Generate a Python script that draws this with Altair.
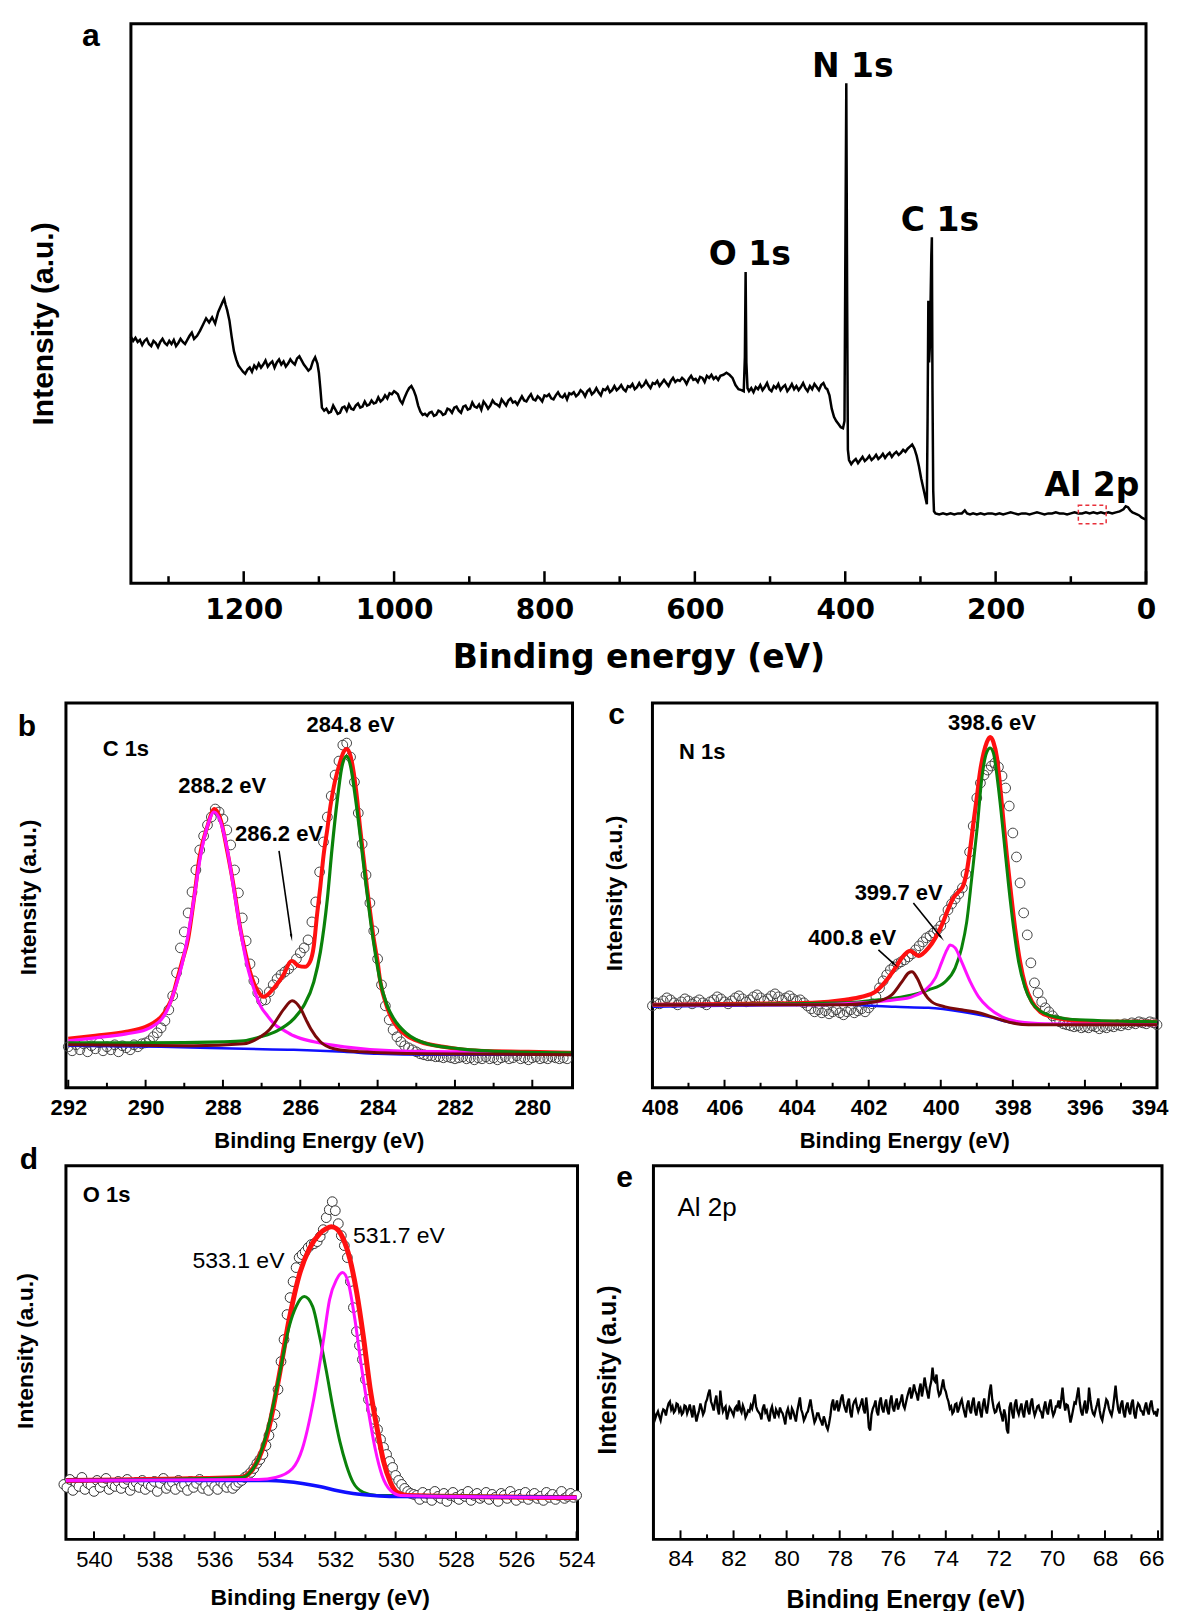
import altair as alt
import pandas as pd

FONT = "Liberation Sans"
WIDE = "DejaVu Sans"

# ---------------- panel a : survey spectrum (E in eV, intensity a.u.) ----------------
a_pts = [(1350,240),(1347,236),(1344,239),(1341,235),(1338,237),(1335,232),(1332,236),(1329,238),(1326,233),(1323,231),
(1320,236),(1317,234),(1314,230),(1311,235),(1308,238),(1305,234),(1302,232),(1299,236),(1296,233),(1293,237),(1290,231),
(1287,234),(1284,238),(1281,235),(1278,233),(1275,237),(1272,241),(1269,244),(1266,238),(1262,241),(1258,246),(1254,252),
(1250,258),(1246,254),(1242,259),(1238,253),(1234,264),(1231,269),(1228,274),(1226,277),(1224,271),(1222,266),(1219,256),
(1216,240),(1213,226),(1210,218),(1207,212),(1204,209),(1201,206),(1198,204),(1195,208),(1192,210),(1189,206),(1186,212),
(1183,209),(1180,214),(1177,210),(1174,213),(1171,217),(1168,211),(1165,214),(1162,216),(1159,210),(1156,215),(1153,218),
(1150,213),(1147,216),(1144,211),(1141,214),(1138,218),(1135,215),(1132,213),(1129,219),(1126,221),(1123,217),(1120,213),
(1117,210),(1114,207),(1111,209),(1108,216),(1105,220),(1102,214),(1100,205),(1098,189),(1096,171),(1093,168),(1090,170),
(1087,166),(1084,167),(1081,173),(1078,169),(1075,165),(1072,166),(1069,171),(1066,172),(1063,168),(1060,174),(1057,170),
(1054,169),(1051,173),(1048,175),(1045,171),(1042,172),(1039,177),(1036,173),(1033,174),(1030,178),(1027,175),(1024,176),
(1021,181),(1018,177),(1015,179),(1012,183),(1009,180),(1006,185),(1003,184),(1000,187),(998,186),(995,184),(992,178),
(989,175),(986,181),(983,186),(980,190),(977,192),(974,188),(971,182),(968,173),(965,167),(962,164),(959,165),(956,163),
(953,166),(950,167),(947,163),(944,164),(941,168),(938,167),(935,164),(932,165),(929,170),(926,169),(923,166),(920,171),
(917,172),(914,168),(911,166),(908,172),(905,173),(902,169),(899,170),(896,176),(893,172),(890,171),(887,174),(884,169),
(881,177),(878,174),(875,170),(872,173),(869,178),(866,175),(863,174),(860,172),(857,179),(854,176),(851,173),(848,178),
(845,180),(842,176),(839,177),(836,174),(833,178),(830,182),(827,178),(824,177),(821,181),(818,184),(815,179),(812,178),
(809,182),(806,180),(803,177),(800,183),(797,182),(794,184),(791,180),(788,179),(785,183),(782,186),(779,182),(776,181),
(773,184),(770,179),(767,185),(764,184),(761,186),(758,182),(755,184),(752,188),(749,186),(746,182),(743,187),(740,189),
(737,184),(734,186),(731,190),(728,186),(725,183),(722,189),(719,188),(716,191),(713,186),(710,188),(707,192),(704,188),
(701,190),(698,193),(695,189),(692,187),(689,192),(686,191),(683,194),(680,189),(677,191),(674,195),(671,191),(668,193),
(665,197),(662,193),(659,190),(656,195),(653,194),(650,197),(647,192),(644,195),(641,198),(638,195),(635,192),(632,197),
(629,200),(626,196),(623,198),(620,197),(617,200),(614,198),(611,194),(608,199),(605,202),(602,198),(599,199),(596,196),
(593,201),(590,200),(587,196),(584,202),(581,200),(578,203),(575,199),(572,201),(569,198),(566,202),(562,203),(558,205),
(554,203),(550,200),(546,193),(542,189),(538,188),(535,187),(533.5,220),(532.5,303),(531.5,215),(530,190),(528,187),
(525,190),(522,186),(519,191),(516,189),(513,193),(510,188),(507,191),(504,195),(501,189),(498,187),(495,192),(492,190),
(489,194),(486,188),(483,191),(480,193),(477,187),(474,190),(471,194),(468,189),(465,192),(462,188),(459,191),(456,195),
(453,190),(450,187),(447,192),(444,189),(441,194),(438,191),(435,188),(432,193),(429,195),(426,190),(424,189),(421,183),
(418,170),(415,162),(412,158),(409,155),(406,152),(403,151),(401,158),(400,300),(398.6,487),(397.5,280),(396.5,130),
(395,120),(392,116),(389,119),(386,121),(383,117),(380,120),(377,123),(374,119),(371,121),(368,124),(365,120),(362,122),
(359,125),(356,121),(353,123),(350,126),(347,122),(344,125),(341,127),(338,123),(335,126),(332,128),(329,125),(326,127),
(323,130),(320,128),(317,131),(314,133),(311,135),(308,131),(305,124),(302,114),(299,102),(296,92),(293,82),(291.5,77),
(290.5,160),(289.5,275),(288.5,215),(287.5,230),(286.5,275),(285.5,320),(284.8,337),(284,190),(283,90),(282,70),(280,68),
(275,67),(270,68),(265,67),(260,68),(255,67),(250,68),(245,68),(241,71),(238,68),(234,67),(230,68),(225,67),(220,68),
(215,67),(210,68),(205,68),(200,67),(195,68),(190,67),(185,68),(180,69),(175,68),(170,67),(165,68),(160,68),(155,67),
(150,68),(145,69),(140,68),(135,67),(130,68),(125,68),(120,69),(115,68),(110,68),(105,67),(100,68),(95,69),(90,68),
(85,68),(80,69),(75,68),(70,69),(65,68),(60,69),(55,68),(50,69),(45,68),(40,69),(35,70),(30,72),(27,75),(24,74),(21,71),
(18,69),(15,68),(12,67),(9,66),(6,64),(3,63),(0,62)]
a_lab_txt = ["N 1s", "O 1s", "C 1s", "Al 2p"]
a_lab_E = [390, 527, 274, 72]
a_lab_I = [503, 320, 353, 95]
a_major = [0, 200, 400, 600, 800, 1000, 1200]
a_minor = [100, 300, 500, 700, 900, 1100, 1300]

# ---------------- panel b : C 1s ----------------
b_circ_I = [41, 37, 43, 38, 44, 36, 42, 39, 45, 37, 41, 38, 43, 36, 42, 40, 38, 43, 41, 44, 45,
 47, 51, 55, 60, 67, 78, 92, 115, 140, 156, 175, 196, 218, 238, 252, 263, 271, 279, 276, 269,
 258, 243, 218, 195, 170, 147, 124, 107, 95, 87, 88, 96, 103, 109, 113, 116, 119, 123, 129, 135,
 140, 148, 166, 186, 216, 246, 271, 292, 313, 327, 343, 345, 331, 306, 275, 244, 213, 185, 157, 129,
 103, 82, 68, 58, 51, 46, 42, 40, 38, 36, 34, 33, 32, 32, 31, 31, 30, 31, 30, 29,
 30, 31, 29, 30, 28, 30, 29, 31, 29, 30, 28, 30, 31, 29, 30, 32, 29, 30, 28, 30, 31, 29, 30, 29, 31, 30, 29, 30, 29]
b_circ_E = [round(292.0 - 0.1 * i, 1) for i in range(len(b_circ_I))]
b_red = [(292.0,49),(291.3,52),(290.5,56),(290.0,61),(289.8,65),(289.6,71),(289.45,79),(289.3,92),(289.2,106),(289.05,127),
 (288.9,149),(288.75,189),(288.6,232),(288.4,262),(288.22,279),(288.05,267),(287.9,239),(287.72,201),(287.55,159),(287.4,132),
 (287.3,116),(287.1,97),(286.95,91),(286.7,99),(286.45,112),(286.22,127),(286.05,122),(285.88,121),(285.75,126),(285.65,142),
 (285.57,172),(285.48,202),(285.4,232),(285.3,259),(285.22,282),(285.13,302),(285.0,322),(284.88,336),(284.8,339),(284.7,332),
 (284.62,316),(284.53,289),(284.45,259),(284.36,229),(284.27,199),(284.18,172),(284.1,149),(284.0,126),(283.93,106),(283.8,86),
 (283.67,72),(283.5,61),(283.24,52),(282.9,46),(282.3,41),(281.4,37),(280.1,36),(279.0,35)]
b_mag = [(292.0,47),(291.3,50),(290.5,54),(290.0,58),(289.8,62),(289.6,68),(289.45,77),(289.2,104),(289.05,125),(288.92,149),
 (288.75,189),(288.58,232),(288.4,262),(288.23,276),(288.06,266),(287.89,239),(287.72,199),(287.54,156),(287.37,122),(287.2,99),
 (287.03,82),(286.85,72),(286.68,64),(286.4,57),(286.17,52),(285.65,46),(284.87,41),(283.58,37),(281.86,36),(279.0,34)]
b_grn = [(292.0,45),(290.0,45),(288.0,46),(287.46,47),(287.03,51),(286.6,57),(286.17,69),(285.91,82),(285.65,106),(285.48,136),
 (285.3,189),(285.18,239),(285.04,289),(284.92,322),(284.8,332),(284.7,322),(284.57,289),(284.44,249),(284.31,206),(284.18,166),
 (284.05,132),(283.93,106),(283.75,82),(283.58,69),(283.24,54),(282.72,44),(281.86,39),(280.57,36),(279.0,35)]
b_brn = [(292.0,43),(288.75,42),(287.46,44),(287.03,51),(286.8,58),(286.68,64),(286.42,79),(286.21,87),(285.99,79),(285.85,68),
 (285.73,59),(285.48,46),(285.13,39),(284.44,36),(282.72,34),(279.0,33)]
b_blu = [(292.0,42),(289.6,41),(287.46,39),(286.17,38),(284.87,36),(284.0,34),(282.7,33),(279.0,33)]
b_lab_txt = ["C 1s", "288.2 eV", "284.8 eV", "286.2 eV"]
b_lab_E = [290.51, 288.02, 284.70, 286.55]
b_lab_I = [339, 302, 363, 254]

# ---------------- panel c : N 1s ----------------
c_circ_I = [82, 85, 84, 87, 90, 88, 85, 83, 86, 89, 87, 84, 86, 88, 85, 83,
 86, 88, 91, 89, 86, 84, 87, 90, 92, 89, 86, 88, 91, 93, 90, 87, 89, 92, 94, 91, 88, 90, 92, 89, 87,
 88, 85, 82, 79, 76, 78, 75, 77, 74, 76, 78, 75, 73, 76, 78, 75, 77, 79, 76, 80,
 84, 91, 100, 107, 113, 118, 121, 124, 126, 128,
 131, 134, 138, 142, 146, 150, 152, 155, 158, 162,
 169, 178, 184, 189, 194, 200, 214, 236, 262, 290,
 305, 313, 318, 322, 325, 321, 312, 300, 282, 255,
 231, 205, 175, 153, 125, 105, 95, 86, 80, 76,
 72, 68, 66, 64, 63, 62, 61, 62, 60, 61,
 60, 62, 61, 59, 61, 60, 62, 61, 63, 62, 64, 63, 65, 64, 66, 65, 64, 66, 65, 63]
c_circ_E = [round(408.0 - 0.1 * i, 1) for i in range(len(c_circ_I))]
c_red = [(408.0,83),(405.5,84),(403.57,85),(402.65,88),(402.19,91),(401.82,96),(401.54,106),(401.26,120),(401.08,130),(400.85,137),
 (400.62,132),(400.34,140),(400.15,150),(399.97,163),(399.78,180),(399.65,190),(399.51,196),(399.37,203),(399.28,216),(399.18,240),
 (399.09,266),(398.99,293),(398.91,316),(398.81,335),(398.72,346),(398.63,351),(398.54,346),(398.44,330),(398.35,300),(398.26,266),
 (398.17,233),(398.07,200),(397.94,160),(397.8,126),(397.66,103),(397.47,86),(397.24,76),(396.92,71),(396.46,68),(395.72,66),(394.0,66)]
c_grn = [(408.0,83),(402.65,85),(401.72,88),(400.8,93),(400.34,98),(399.88,106),(399.6,120),(399.42,140),(399.28,166),(399.14,210),
 (398.99,260),(398.86,310),(398.72,336),(398.63,340),(398.54,335),(398.4,300),(398.26,253),(398.12,203),(397.98,160),(397.84,126),
 (397.66,100),(397.47,85),(397.2,76),(396.83,71),(396.18,68),(394.0,66)]
c_mag = [(408.0,83),(403.57,83),(402.19,85),(401.26,88),(400.8,91),(400.43,98),(400.15,110),(399.97,126),(399.83,138),(399.74,143),
 (399.6,140),(399.42,126),(399.18,106),(398.95,91),(398.67,80),(398.3,71),(397.84,66),(397.1,64),(394.0,63)]
c_brn = [(408.0,83),(402.65,83),(401.82,86),(401.36,93),(401.08,106),(400.89,115),(400.8,116),(400.66,110),(400.48,96),(400.25,86),
 (399.88,81),(399.42,78),(398.95,75),(398.49,70),(398.03,65),(397.57,63),(394.0,63)]
c_blu = [(408.0,81),(402.65,83),(401.26,81),(400.34,80),(399.42,76),(398.67,71),(398.03,65),(397.57,63),(394.0,63)]
c_lab_txt = ["N 1s", "398.6 eV", "399.7 eV", "400.8 eV"]
c_lab_E = [406.62, 398.58, 401.17, 402.46]
c_lab_I = [336, 365, 195, 150]

# ---------------- panel d : O 1s ----------------
d_circ_I = [55, 52, 60, 49, 57, 53, 62, 50, 56, 54, 48, 59, 52, 57, 61, 50, 55, 53, 58, 51,
 56, 60, 49, 54, 57, 52, 59, 50, 55, 53, 58, 48, 56, 61, 51, 54, 57, 50, 59, 53,
 55, 49, 58, 52, 56, 60, 51, 54, 49, 57, 53, 50, 58, 55, 52, 56, 51, 54, 57, 59,
 62, 64, 67, 71, 76, 80, 85, 94, 104, 114, 125, 150, 178, 200, 225, 242, 258, 272, 282, 285,
 288, 292, 295, 296, 298, 303, 310, 322, 330, 338, 329, 316, 304, 294, 282, 258, 232, 208, 194, 180,
 160, 140, 130, 120, 110, 100, 92, 85, 78, 72, 64, 59, 55, 51, 48, 46, 45,
 44, 40, 47, 42, 45, 39, 48, 43, 41, 46, 38, 44, 47, 42, 40, 45, 43, 48, 39, 44,
 46, 41, 43, 47, 40, 45, 42, 38, 46, 44, 41, 48, 43, 39, 45, 42, 47, 40, 44, 46,
 41, 43, 39, 47, 42, 45, 40, 44, 48, 41, 43, 46, 42, 44]
d_circ_E = [round(541.0 - 0.1 * i, 1) for i in range(len(d_circ_I))]
d_red = [(540.98,59),(535.1,62),(534.8,68),(534.54,81),(534.2,112),(533.87,162),(533.53,220),(533.2,264),(532.86,291),(532.52,306),
 (532.3,311),(532.13,313),(531.96,311),(531.74,301),(531.52,281),(531.29,247),(531.07,203),(530.85,152),(530.62,112),(530.4,78),
 (530.17,57),(529.95,47),(529.61,44),(524.0,42)]
d_grn = [(540.98,59),(535.1,62),(534.8,68),(534.54,81),(534.2,115),(533.87,162),(533.53,213),(533.3,233),(533.03,243),(532.75,233),
 (532.52,203),(532.3,169),(532.08,132),(531.85,98),(531.63,74),(531.41,57),(531.07,47),(530.62,44),(530.06,44),(524.0,42)]
d_mag = [(540.98,59),(534.54,60),(533.98,62),(533.42,71),(533.09,91),(532.75,135),(532.41,196),(532.19,240),(531.96,260),(531.76,267),
 (531.57,257),(531.35,220),(531.13,172),(530.9,128),(530.68,91),(530.45,64),(530.17,49),(529.84,44),(524.0,42)]
d_blu = [(540.98,59),(534.2,59),(533.64,58),(533.09,56),(532.52,53),(531.96,49),(531.41,46),(530.73,44),(530.06,43),(524.0,42)]
d_lab_txt = ["533.1 eV", "531.7 eV"]
d_lab_E = [535.21, 529.89]
d_lab_I = [279, 304]

# ---------------- panel e : Al 2p (0.05 eV steps from 85 eV) ----------------
e_I = [127, 121, 125, 128, 123, 119, 126, 130, 129, 124, 131, 136, 138, 130, 133, 127, 129, 136, 135, 128,
 131, 125, 127, 134, 133, 126, 130, 135, 128, 122, 134, 126, 118, 124, 129, 136, 131, 125, 128, 137,
 140, 146, 150, 138, 134, 129, 138, 144, 131, 125, 149, 136, 128, 131, 133, 120, 126, 132, 130, 127,
 124, 131, 133, 128, 139, 130, 127, 134, 130, 122, 125, 129, 128, 134, 131, 138, 145, 133, 129, 127,
 125, 120, 131, 135, 127, 129, 122, 118, 129, 133, 126, 121, 130, 127, 124, 132, 128, 126, 121, 115,
 127, 131, 125, 120, 131, 128, 123, 118, 128, 135, 142, 130, 126, 119, 122, 126, 128, 134, 140, 131,
 124, 117, 120, 126, 126, 121, 118, 114, 123, 119, 113, 110, 116, 124, 135, 140, 129, 133, 139, 128,
 133, 141, 145, 136, 131, 127, 137, 141, 127, 122, 134, 138, 140, 133, 128, 132, 136, 141, 130, 126,
 142, 130, 112, 109, 125, 131, 134, 139, 128, 124, 137, 142, 131, 127, 135, 140, 129, 125, 138, 144,
 132, 128, 136, 141, 130, 135, 139, 145, 134, 131, 137, 143, 148, 152, 141, 146, 155, 149, 145, 139,
 150, 156, 143, 151, 162, 154, 147, 141, 152, 158, 172, 160, 158, 165, 150, 144, 146, 153, 160, 151,
 148, 142, 138, 131, 133, 126, 128, 135, 136, 127, 131, 137, 140, 133, 127, 122, 134, 139, 130, 126,
 137, 142, 129, 124, 133, 138, 128, 122, 135, 141, 131, 126, 136, 148, 155, 140, 132, 127, 128, 134,
 136, 129, 124, 118, 130, 124, 110, 106, 132, 137, 127, 121, 135, 140, 129, 125, 131, 136, 127, 122,
 134, 139, 129, 125, 136, 141, 130, 124, 128, 133, 134, 129, 127, 121, 132, 138, 129, 125, 135, 140,
 130, 124, 127, 133, 133, 139, 131, 140, 152, 138, 129, 135, 134, 126, 117, 123, 130, 137, 136, 144,
 152, 137, 128, 124, 133, 139, 126, 131, 152, 140, 131, 126, 124, 130, 135, 141, 129, 122, 119, 127,
 133, 140, 138, 131, 127, 124, 131, 142, 154, 140, 130, 126, 135, 139, 127, 122, 133, 137, 129, 125,
 136, 140, 126, 121, 131, 136, 134, 129, 128, 124, 132, 137, 129, 125, 135, 139, 130, 126, 127, 123, 131]
e_E = [round(85.0 - 0.05 * i, 2) for i in range(len(e_I))]

RED, MAG, GRN, BRN, BLU = "#ff1010", "#ff10ff", "#0a820a", "#7a0a0a", "#1010ff"


# ---------------- helpers ----------------
def X(sc, ax):
    return alt.X("E:Q", scale=sc, axis=ax)


def Y(sc, ax):
    return alt.Y("I:Q", scale=sc, axis=ax)


def line(pts, color, w, P, interp="monotone"):
    df = pd.DataFrame({"E": [p[0] for p in pts], "I": [p[1] for p in pts]})
    return alt.Chart(df).mark_line(color=color, strokeWidth=w, interpolate=interp, clip=True).encode(
        x=X(P["sx"], P["ax"]), y=Y(P["sy"], P["ay"]))


def circles(Es, Is, P, white=False):
    df = pd.DataFrame({"E": Es, "I": Is})
    if white:
        m = alt.Chart(df).mark_point(shape="circle", filled=True, fill="white", stroke="#333333",
                                     strokeWidth=1, size=95, opacity=1)
    else:
        m = alt.Chart(df).mark_point(shape="circle", filled=False, color="#444444",
                                     strokeWidth=1, size=95, opacity=1)
    return m.encode(x=X(P["sx"], P["ax"]), y=Y(P["sy"], P["ay"]))


def ticks(vals, L, P, w=2):
    df = pd.DataFrame({"E": vals})
    return alt.Chart(df).mark_rule(color="black", strokeWidth=w).encode(
        x=X(P["sx"], P["ax"]), y=alt.value(P["H"]), y2=alt.value(P["H"] - L))


def texts(txts, Es, Is, P, size, weight="bold", font=FONT):
    df = pd.DataFrame({"E": Es, "I": Is, "t": txts})
    return alt.Chart(df).mark_text(font=font, fontSize=size, fontWeight=weight, color="black",
                                   align="center", baseline="middle").encode(
        x=X(P["sx"], P["ax"]), y=Y(P["sy"], P["ay"]), text="t:N")


def arrow(E1, I1, Eh, Ih, ang, P):
    df = pd.DataFrame({"E": [E1], "I": [I1], "E2": [Eh], "I2": [Ih]})
    ln = alt.Chart(df).mark_rule(color="black", strokeWidth=1.6).encode(
        x=X(P["sx"], P["ax"]), y=Y(P["sy"], P["ay"]), x2="E2:Q", y2="I2:Q")
    hd = alt.Chart(pd.DataFrame({"E": [Eh], "I": [Ih]})).mark_point(
        shape="wedge", filled=True, color="black", size=80, angle=ang, opacity=1).encode(
        x=X(P["sx"], P["ax"]), y=Y(P["sy"], P["ay"]))
    return [ln, hd]


def letter(ch, px, py, size=30):
    return alt.Chart(pd.DataFrame({"t": [ch]})).mark_text(
        font=FONT, fontSize=size, fontWeight="bold", color="black").encode(
        x=alt.value(px), y=alt.value(py), text="t:N")


def xaxis(values, size, weight, pad, tsize, tx, ty, title="Binding Energy (eV)", lfont=FONT, tfont=FONT,
          flush=False, flush_off=0):
    return alt.Axis(values=values, format="d", domain=False, ticks=False, tickSize=0, grid=False,
                    labelFont=lfont, labelFontSize=size, labelFontWeight=weight, labelColor="black",
                    labelPadding=pad, labelFlush=flush, labelFlushOffset=flush_off, labelOverlap=False,
                    title=title, titleFont=tfont, titleFontSize=tsize, titleFontWeight="bold",
                    titleColor="black", titleX=tx, titleY=ty, titleAlign="center", titleBaseline="middle")


def yaxis(tsize, tx, ty):
    return alt.Axis(labels=False, domain=False, ticks=False, tickSize=0, grid=False,
                    title="Intensity (a.u.)", titleFont=FONT, titleFontSize=tsize, titleFontWeight="bold",
                    titleColor="black", titleX=tx, titleY=ty, titleAngle=270,
                    titleAlign="center", titleBaseline="middle")


# ---------------- panel a ----------------
A_W, A_H = 1081, 560
PA = dict(H=A_H,
          sx=alt.Scale(domain=[0, 1436.4], reverse=True, nice=False, zero=False),
          sy=alt.Scale(domain=[0, 545], nice=False, zero=False),
          ax=xaxis(a_major, 28, "bold", 13, 33, 573, 74, title="Binding energy (eV)", lfont=WIDE, tfont=WIDE),
          ay=yaxis(30, -22, 300))
a_frame = alt.Chart(pd.DataFrame({"E": [1350], "E2": [0], "I": [0], "I2": [545]})).mark_rect(
    fillOpacity=0, stroke="black", strokeWidth=3).encode(
    x=X(PA["sx"], PA["ax"]), x2="E2:Q", y=Y(PA["sy"], PA["ay"]), y2="I2:Q")
a_box = alt.Chart(pd.DataFrame({"E": [90], "E2": [53], "I": [58], "I2": [76]})).mark_rect(
    fillOpacity=0, stroke="#e8303a", strokeWidth=1.5, strokeDash=[4, 3]).encode(
    x=X(PA["sx"], PA["ax"]), x2="E2:Q", y=Y(PA["sy"], PA["ay"]), y2="I2:Q")
a_chart = alt.layer(
    a_frame,
    ticks(a_major, 12, PA, 2.5), ticks(a_minor, 7, PA, 2.5),
    line(a_pts, "black", 2.5, PA, "linear"),
    a_box,
    texts(a_lab_txt, a_lab_E, a_lab_I, PA, 33, font=WIDE),
    letter("a", 25, 12, 32),
).properties(width=A_W, height=A_H, view=alt.ViewBackground(strokeOpacity=0))

# ---------------- panel b ----------------
B_W, B_H = 507, 385
PB = dict(H=B_H,
          sx=alt.Scale(domain=[278.96, 292.06], reverse=True, nice=False, zero=False),
          sy=alt.Scale(domain=[0, 385], nice=False, zero=False),
          ax=xaxis(list(range(280, 293, 2)), 22, "bold", 9.5, 22, 253, 53),
          ay=yaxis(23, -37, 194))
b_chart = alt.layer(
    ticks(list(range(280, 293, 2)), 8, PB), ticks(list(range(281, 292, 2)), 5, PB),
    circles(b_circ_E, b_circ_I, PB),
    line(b_blu, BLU, 2.5, PB), line(b_red, RED, 4, PB), line(b_mag, MAG, 3.2, PB),
    line(b_grn, GRN, 3.2, PB), line(b_brn, BRN, 3, PB),
    texts(b_lab_txt, b_lab_E, b_lab_I, PB, 22),
    *arrow(286.55, 237, 286.23, 151.5, 171.5, PB),
    letter("b", -39, 24),
).properties(width=B_W, height=B_H)

# ---------------- panel c ----------------
C_W, C_H = 505, 385
PC = dict(H=C_H,
          sx=alt.Scale(domain=[394, 408], reverse=True, nice=False, zero=False),
          sy=alt.Scale(domain=[0, 385], nice=False, zero=False),
          ax=xaxis(list(range(394, 409, 2)), 22, "bold", 9.5, 22, 252, 53, flush=True, flush_off=11),
          ay=yaxis(23, -38, 190))
c_chart = alt.layer(
    ticks(list(range(394, 409, 2)), 8, PC), ticks(list(range(395, 408, 2)), 5, PC),
    circles(c_circ_E, c_circ_I, PC),
    line(c_blu, BLU, 2.5, PC), line(c_red, RED, 4.2, PC), line(c_grn, GRN, 3, PC),
    line(c_mag, MAG, 3, PC), line(c_brn, BRN, 3, PC),
    texts(c_lab_txt, c_lab_E, c_lab_I, PC, 22),
    *arrow(400.76, 185, 400.0, 151, 140.7, PC),
    *arrow(401.73, 138, 401.30, 124, 132.2, PC),
    letter("c", -36, 12),
).properties(width=C_W, height=C_H)

# ---------------- panel d ----------------
D_W, D_H = 512, 374
PD = dict(H=D_H,
          sx=alt.Scale(domain=[523.97, 540.93], reverse=True, nice=False, zero=False),
          sy=alt.Scale(domain=[0, 374], nice=False, zero=False),
          ax=xaxis(list(range(524, 541, 2)), 22, "normal", 10, 23, 254, 58),
          ay=yaxis(23, -40, 185))
d_chart = alt.layer(
    ticks(list(range(524, 541, 2)), 8, PD), ticks(list(range(525, 540, 2)), 5, PD),
    circles(d_circ_E, d_circ_I, PD, white=True),
    line(d_red, RED, 5, PD), line(d_grn, GRN, 3, PD), line(d_blu, BLU, 3.5, PD), line(d_mag, MAG, 3, PD),
    texts(["O 1s"], [539.58], [345], PD, 22),
    texts(d_lab_txt, d_lab_E, d_lab_I, PD, 23, weight="normal"),
    letter("d", -37, -6),
).properties(width=D_W, height=D_H)

# ---------------- panel e ----------------
E_W, E_H = 509, 374
PE = dict(H=E_H,
          sx=alt.Scale(domain=[65.85, 85.02], reverse=True, nice=False, zero=False),
          sy=alt.Scale(domain=[0, 374], nice=False, zero=False),
          ax=xaxis(list(range(66, 85, 2)), 23, "normal", 8, 25, 252, 60, flush=6, flush_off=6),
          ay=yaxis(25, -46, 204))
e_chart = alt.layer(
    ticks(list(range(66, 85, 2)), 9, PE), ticks(list(range(67, 84, 2)), 5, PE),
    line(list(zip(e_E, e_I)), "black", 2.3, PE, "linear"),
    texts(["Al 2p"], [83.0], [332], PE, 26, weight="normal"),
    letter("e", -29, 12),
).properties(width=E_W, height=E_H)

# invisible spacer keeps the two lower rows apart (nested rows have no flush height)
spacer = alt.Chart(pd.DataFrame({"v": [0]})).mark_rule(opacity=0).encode(
    x=alt.value(0), y=alt.value(0), y2=alt.value(1)
).properties(width=1, height=222.5, view=alt.ViewBackground(strokeOpacity=0))

row1 = alt.hconcat(b_chart, c_chart, spacing=80, bounds="flush")
row2 = alt.hconcat(d_chart, e_chart, spacing=76, bounds="flush")
chart = alt.vconcat(a_chart, row1, spacer, row2, spacing=120, bounds="flush").properties(
    padding={"left": 5, "top": 11, "right": 0, "bottom": 5}, background="white"
).configure_view(stroke="black", strokeWidth=3)

chart.save("out.html", embed_options={"renderer": "svg", "actions": False})
